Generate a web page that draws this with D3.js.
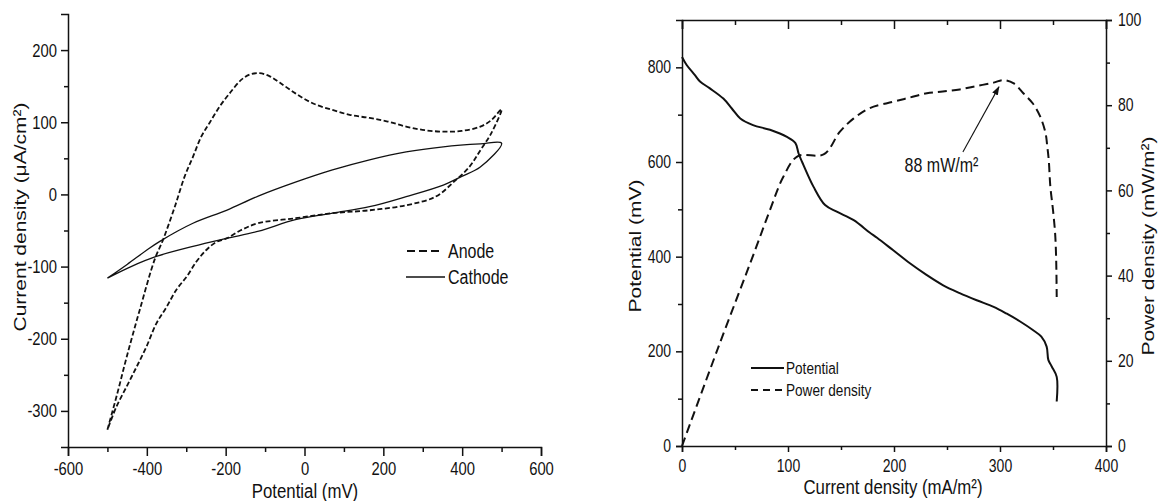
<!DOCTYPE html>
<html>
<head>
<meta charset="utf-8">
<script src="https://cdn.jsdelivr.net/npm/d3@7"></script>
<style>
  body { margin: 0; background: #fff; }
  svg { display: block; font-family: "Liberation Sans", Arial, sans-serif; }
</style>
</head>
<body>
<svg id="chart" width="1161" height="501"></svg>
<script>
// ---- left panel: cyclic voltammetry ----
var anodeE = [-500, -475, -451, -418, -380, -359, -329, -304, -283, -262, -241, -215, -190, -160, -139, -114, -89, -63, -23, 22, 71, 117, 165, 211, 258, 305, 352, 399, 446, 474, 500,
              474, 446, 418, 380, 333, 258, 165, 71, -23, -118, -163, -198, -224, -249, -274, -299, -325, -350, -376, -401, -426, -451, -477, -500];
var anodeI = [-326, -276, -225, -160, -90, -63, -17, 25, 52, 80, 99, 122, 140, 159, 166, 168, 164, 155, 140, 126, 117, 110, 106, 101, 94, 89, 87, 88, 94, 103, 118,
              85, 61, 38, 18, -3, -15, -22, -26, -33, -40, -50, -61, -66, -77, -93, -114, -132, -156, -179, -211, -239, -266, -294, -326];
var cathodeE = [-500, -450, -400, -367, -283, -198, -116, -23, 71, 165, 258, 352, 446, 500,
                446, 399, 352, 258, 165, 71, -23, -116, -198, -283, -376, -440, -500];
var cathodeI = [-116, -97, -77, -65, -40, -22, -2, 17, 34, 48, 59, 66, 70, 71,
                38, 25, 13, -3, -17, -26, -35, -51, -61, -72, -86, -100, -116];
var cvXTicks = [-600, -400, -200, 0, 200, 400, 600];
var cvXMinor = [-500, -300, -100, 100, 300, 500];
var cvYTicks = [-300, -200, -100, 0, 100, 200];
var cvYMinor = [-250, -150, -50, 50, 150];

// ---- right panel: polarization / power curves ----
var potCurrent = [0, 4.4, 12, 17, 26, 39, 47, 55, 67, 83, 99, 107, 110, 114.5, 124, 135, 146, 162, 177, 184, 199, 215, 231, 246, 262, 278, 294, 306, 319, 331, 339, 344, 345.6, 348.8, 353.5, 353.5];
var potential  = [822, 805, 784, 770, 756, 734, 713, 692, 678, 668, 653, 640, 618, 594, 548, 509, 495, 477, 451, 440, 414, 386, 361, 340, 323, 308, 294, 280, 263, 245, 231, 210, 182, 168, 146, 94];
var pwrCurrent = [0, 34, 69, 83, 95.6, 109, 134, 149, 162, 177, 199, 215, 231, 246, 262, 278, 294, 303, 313, 322, 331, 338, 343, 344.6, 346, 347.5, 350, 352, 353, 353.5];
var powerDens  = [0, 23, 46, 55.4, 63.2, 68, 68.5, 73.8, 76.9, 79.3, 80.8, 81.8, 82.8, 83.2, 83.7, 84.5, 85.3, 85.9, 85.1, 82.8, 80.4, 77.3, 73.4, 70.3, 67.1, 60.9, 55.4, 49.9, 43.7, 35];
var pcXTicks = [0, 100, 200, 300, 400];
var pcXMinor = [50, 150, 250, 350];
var potTicks = [0, 200, 400, 600, 800];
var potMinor = [100, 300, 500, 700];
var pwrTicks = [0, 20, 40, 60, 80, 100];
var pwrMinor = [10, 30, 50, 70, 90];
var peakLabel = "88 mW/m\u00B2";

var SX = 0.8;          // the source figure is horizontally condensed
var INK = "#111";
var svg = d3.select("#chart");

function squash(sel) {
  sel.each(function () {
    var t = d3.select(this), x = +t.attr("x") || 0;
    t.attr("x", x / SX).attr("transform", "scale(" + SX + ",1)");
  });
}

function styleAxis(g, size) {
  g.attr("font-family", null).attr("font-size", size);
  g.selectAll("path, line").attr("stroke", INK).attr("stroke-width", 1.5);
  g.selectAll("text").attr("fill", INK);
  squash(g.selectAll("text"));
}

function addAxis(axis, tx, ty, size) {
  var g = svg.append("g").attr("transform", "translate(" + tx + "," + ty + ")").call(axis);
  styleAxis(g, size);
  return g;
}

function addMinor(axis, tx, ty) {
  var g = svg.append("g").attr("transform", "translate(" + tx + "," + ty + ")").call(axis.tickFormat(""));
  g.select(".domain").remove();
  g.selectAll("line").attr("stroke", INK).attr("stroke-width", 1.5);
}

function hText(x, y, str, size, anchor) {
  return svg.append("text")
    .attr("x", x / SX).attr("y", y)
    .attr("transform", "scale(" + SX + ",1)")
    .attr("text-anchor", anchor || "middle")
    .attr("font-size", size).attr("fill", INK)
    .text(str);
}

function vText(x, y, str, size) {
  return svg.append("text")
    .attr("transform", "translate(" + x + "," + y + ") scale(" + SX + ",1) rotate(-90)")
    .attr("text-anchor", "middle").attr("dy", "0.35em")
    .attr("font-size", size).attr("fill", INK)
    .text(str);
}

var fmt = function (d) { return String(d); };

// ================= left chart =================
var xL = d3.scaleLinear().domain([-600, 600]).range([68, 541]);
var yL = d3.scaleLinear().domain([-350, 250]).range([447, 14]);

addMinor(d3.axisBottom(xL).tickValues(cvXMinor).tickSize(5), 0, 447);
addMinor(d3.axisLeft(yL).tickValues(cvYMinor).tickSize(4), 68, 0);
addAxis(d3.axisBottom(xL).tickValues(cvXTicks).tickSize(9).tickPadding(6).tickFormat(fmt), 0, 447, 18.5);
addAxis(d3.axisLeft(yL).tickValues(cvYTicks).tickSize(7).tickPadding(4).tickFormat(fmt), 68, 0, 18.5);

var cvLine = d3.line().curve(d3.curveCatmullRom.alpha(0.5));

svg.append("path")
  .attr("d", cvLine(anodeE.map(function (e, i) { return [xL(e), yL(anodeI[i])]; })))
  .attr("fill", "none").attr("stroke", INK).attr("stroke-width", 1.8)
  .attr("stroke-dasharray", "5,2.5");

svg.append("path")
  .attr("d", cvLine(cathodeE.map(function (e, i) { return [xL(e), yL(cathodeI[i])]; })))
  .attr("fill", "none").attr("stroke", INK).attr("stroke-width", 1.3);

// legend
svg.append("line").attr("x1", 407).attr("x2", 441).attr("y1", 251).attr("y2", 251)
  .attr("stroke", INK).attr("stroke-width", 2).attr("stroke-dasharray", "8,4");
hText(448, 251, "Anode", 20, "start").attr("dy", "0.35em");
svg.append("line").attr("x1", 406).attr("x2", 445).attr("y1", 277).attr("y2", 277)
  .attr("stroke", INK).attr("stroke-width", 1.3);
hText(448, 277, "Cathode", 20, "start").attr("dy", "0.35em");

hText(305, 498, "Potential (mV)", 21);
vText(20, 217, "Current density (\u03BCA/cm\u00B2)", 21);

// ================= right chart =================
var xR = d3.scaleLinear().domain([0, 400]).range([682, 1106]);
var yP = d3.scaleLinear().domain([0, 900]).range([446, 20]);
var yW = d3.scaleLinear().domain([0, 100]).range([446, 20]);

// top frame with inward ticks
addMinor(d3.axisBottom(xR).tickValues(pcXMinor).tickSize(5), 0, 20);
addAxis(d3.axisBottom(xR).tickValues(pcXTicks).tickSize(9).tickFormat(""), 0, 20, 17);

addMinor(d3.axisBottom(xR).tickValues(pcXMinor).tickSize(4), 0, 446);
addMinor(d3.axisLeft(yP).tickValues(potMinor).tickSize(4), 682, 0);
addMinor(d3.axisRight(yW).tickValues(pwrMinor).tickSize(4), 1106, 0);
addAxis(d3.axisBottom(xR).tickValues(pcXTicks).tickSize(6).tickPadding(8).tickFormat(fmt), 0, 446, 17.5);
addAxis(d3.axisLeft(yP).tickValues(potTicks).tickSize(6).tickPadding(5).tickFormat(fmt), 682, 0, 17.5);
addAxis(d3.axisRight(yW).tickValues(pwrTicks).tickSize(6).tickPadding(6).tickFormat(fmt), 1106, 0, 17.5);

var potLine = d3.line()
  .x(function (d, i) { return xR(potCurrent[i]); })
  .y(function (d) { return yP(d); })
  .curve(d3.curveCatmullRom.alpha(0.5));
svg.append("path").attr("d", potLine(potential))
  .attr("fill", "none").attr("stroke", INK).attr("stroke-width", 2);

var pwrLine = d3.line()
  .x(function (d, i) { return xR(pwrCurrent[i]); })
  .y(function (d) { return yW(d); })
  .curve(d3.curveCatmullRom.alpha(0.5));
svg.append("path").attr("d", pwrLine(powerDens))
  .attr("fill", "none").attr("stroke", INK).attr("stroke-width", 2)
  .attr("stroke-dasharray", "9,5");

// peak annotation
svg.append("defs").append("marker")
  .attr("id", "arrow").attr("viewBox", "0 0 10 10").attr("refX", 9).attr("refY", 5)
  .attr("markerWidth", 9).attr("markerHeight", 9).attr("markerUnits", "userSpaceOnUse")
  .attr("orient", "auto")
  .append("path").attr("d", "M0,1.5L10,5L0,8.5Z").attr("fill", INK);
svg.append("line")
  .attr("x1", xR(265)).attr("y1", yW(69))
  .attr("x2", xR(299)).attr("y2", yW(84.3))
  .attr("stroke", INK).attr("stroke-width", 1.1).attr("marker-end", "url(#arrow)");
hText(xR(210), yW(64.3), peakLabel, 20, "start");

// legend
svg.append("line").attr("x1", 751).attr("x2", 784).attr("y1", 368).attr("y2", 368)
  .attr("stroke", INK).attr("stroke-width", 2);
hText(786, 368, "Potential", 17, "start").attr("dy", "0.35em");
svg.append("line").attr("x1", 751).attr("x2", 784).attr("y1", 390).attr("y2", 390)
  .attr("stroke", INK).attr("stroke-width", 2).attr("stroke-dasharray", "7,5");
hText(786, 390, "Power density", 17, "start").attr("dy", "0.35em");

hText(893, 494, "Current density (mA/m\u00B2)", 21);
vText(635, 246, "Potential (mV)", 21);
vText(1148, 246, "Power density (mW/m\u00B2)", 21);
</script>
</body>
</html>
